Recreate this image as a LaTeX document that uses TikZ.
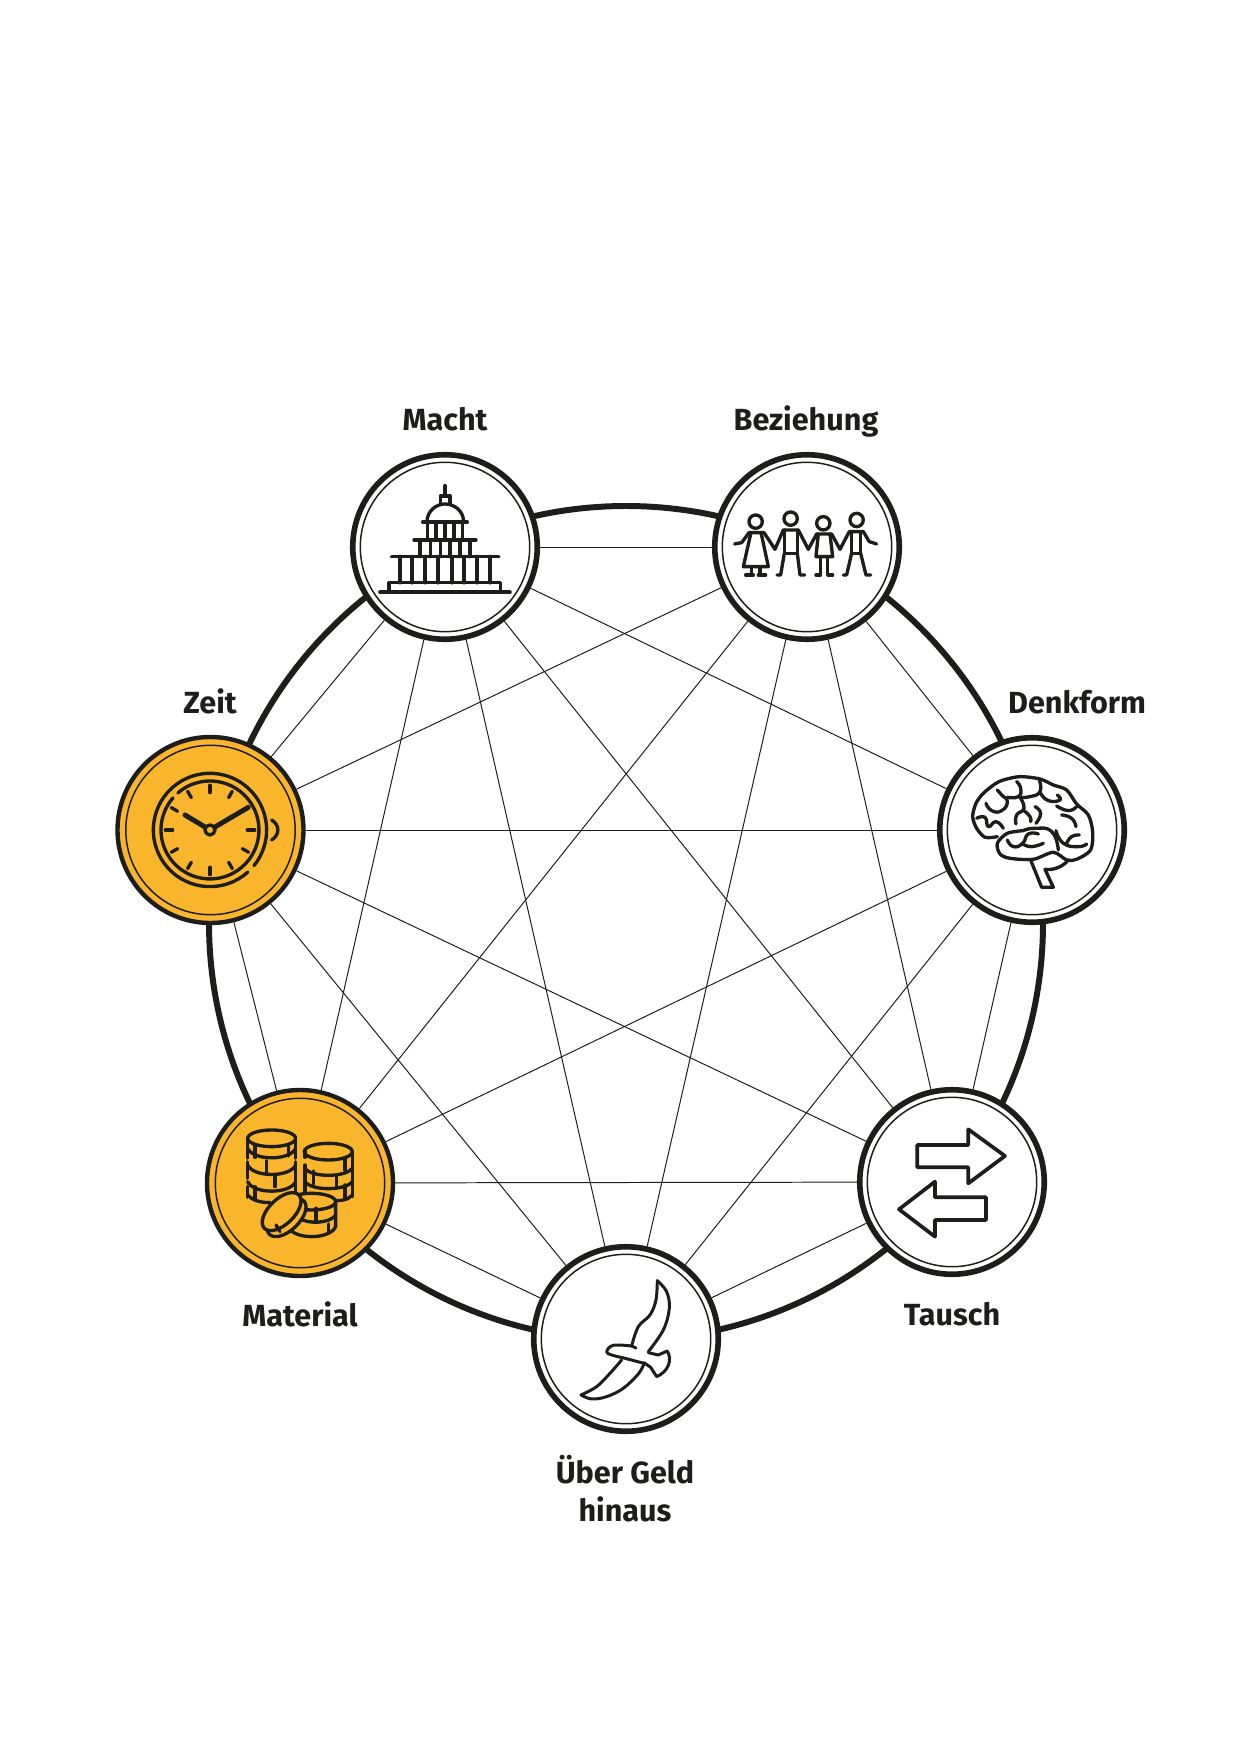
\documentclass[tikz,border=0pt]{standalone}
\usepackage{fontspec}
\setmainfont{Fira Sans}
\usetikzlibrary{positioning}
\definecolor{inkblack}{HTML}{1D1D1B}
\definecolor{coinyellow}{HTML}{F9B52B}
\tikzset{
  hub/.style={circle, draw=inkblack, line width=1.6pt, minimum size=1.845cm, fill=white},
  hubgold/.style={hub, line width=1.25pt, minimum size=1.86cm, fill=coinyellow},
  ring/.style={draw=inkblack, line width=0.42pt},
  spoke/.style={draw=inkblack, line width=0.28pt},
  lbl/.style={font=\bfseries\fontsize{8.7}{10.8}\selectfont, text=inkblack, align=center, inner sep=0pt},
  icon/.style={draw=inkblack, line width=0.95pt, line cap=round, line join=round},
  fold/.style={smooth, tension=0.9},
  zoomed/.style 2 args={shift={(#1,#2)}, x=0.03333mm, y=-0.03333mm}
}
\begin{document}
\begin{tikzpicture}[y=-1cm]
    \path[fill=white] (0,0) rectangle (12.4,17.53);
    \draw[inkblack, line width=1.7pt] (6.26,9.23) circle (4.17);
    % hubs
    \foreach \name/\x/\y/\sty in {macht/4.45/5.47/hub, bez/8.07/5.47/hub, denk/10.32/8.30/hub, tausch/9.52/11.82/hub, geld/6.26/13.39/hub, mat/3.00/11.83/hubgold, zeit/2.105/8.30/hubgold} {
      \node[\sty] (\name) at (\x,\y) {};
      \draw[ring] (\name.center) circle (0.847);
    }
    % every hub to every other
    \foreach \a/\b in {macht/bez, macht/denk, macht/tausch, macht/geld, macht/mat, macht/zeit, bez/denk, bez/tausch, bez/geld, bez/mat, bez/zeit, denk/tausch, denk/geld, denk/mat, denk/zeit, tausch/geld, tausch/mat, tausch/zeit, geld/mat, geld/zeit, mat/zeit} {
      \draw[spoke] (\a) -- (\b);
    }
    \node[lbl] (lblmacht) at (4.45,4.19) {Macht};
    \node[lbl] (lblbez) at (8.06,4.21) {Beziehung};
    \node[lbl] (lbldenk) at (10.77,7.02) {Denkform};
    \node[lbl] (lblzeit) at (2.10,7.01) {Zeit};
    \node[lbl] (lblmat) at (3.00,13.14) {Material};
    \node[lbl] (lbltausch) at (9.52,13.14) {Tausch};
    \node[lbl] (lblgeld) at (6.25,14.89) {Über Geld\\hinaus};
    % capitol
    \begin{scope}[zoomed={3.3}{3.9}]
      \draw[icon, line width=1.05pt] (150,607) -- (540,607);
      \draw[icon, line width=1.05pt] (178,607) -- (178,578) -- (512,578) -- (512,607);
      \foreach \x in {210,247,285,325,365,403,442,480} { \draw[icon, line width=1.1pt] (\x,500) -- (\x,578); }
      \draw[icon, line width=1.05pt] (185,500) -- (506,500);
      \foreach \x in {270,302,332,360,390,420} { \draw[icon] (\x,450) -- (\x,500); }
      \draw[icon] (252,450) -- (438,450);
      \foreach \x in {292,318,345,372,398} { \draw[icon] (\x,396) -- (\x,450); }
      \draw[icon] (278,396) -- (412,396);
      \draw[icon] (291,396) .. controls (291,362) and (320,342) .. (345,342) .. controls (372,342) and (401,362) .. (401,396);
      \draw[icon] (331,342) -- (331,318) -- (360,318) -- (360,342);
      \draw[icon, line width=1.2pt] (345,288) -- (345,318);
    \end{scope}
    % people
    \begin{scope}[zoomed={6.9}{3.9}]
      \foreach \x/\y in {197/395, 302/386, 400/400, 500/390} { \draw[icon] (\x,\y) circle (20); }
      \draw[icon] (134,462) -- (155,458) -- (177,428) -- (222,428) -- (255,478) -- (280,420) -- (325,420) -- (355,478) -- (380,432) -- (425,432) -- (450,478) -- (478,425) -- (520,425) -- (538,455) -- (560,462);
      \draw[icon] (182,432) -- (160,530) -- (235,530) -- (214,432);
      \draw[icon] (185,530) -- (185,555) (210,530) -- (210,555) (167,555) -- (190,555) (205,555) -- (227,555);
      \draw[icon] (283,420) -- (283,490) -- (322,490) -- (322,420);
      \draw[icon] (283,490) -- (272,555) -- (261,555) (322,490) -- (330,555) -- (344,555);
      \draw[icon] (385,432) -- (378,500) -- (428,500) -- (420,432);
      \draw[icon] (392,500) -- (392,555) -- (378,555) (413,500) -- (413,555) -- (428,555);
      \draw[icon] (485,425) -- (485,490) -- (512,490) -- (512,425);
      \draw[icon] (485,490) -- (470,555) -- (460,555) (512,490) -- (528,555) -- (542,555);
    \end{scope}
    % clock
    \begin{scope}[zoomed={1}{6.8}]
      \draw[icon] (330,450) ++(48:170) arc[start angle=48, end angle=399, radius=170];
      \draw[icon] (330,450) ++(229:147) arc[start angle=229, end angle=581, radius=147];
      \foreach \a in {0,30,...,330} { \draw[icon] (330,450) ++(\a:112) -- ++(\a:22); }
      \draw[icon] (515,420) .. controls (540,435) and (540,465) .. (515,480);
      \draw[icon, line width=1.4pt] (330,450) -- (255,405);
      \draw[icon, line width=1.4pt] (330,450) -- (445,382);
      \draw[icon, fill=coinyellow] (330,450) circle (15);
    \end{scope}
    % brain
    \begin{scope}[zoomed={9.2}{6.8}]
      \draw[icon] plot[smooth] coordinates {(232,470) (195,472) (170,445) (158,410) (168,370) (190,340) (225,312) (250,300) (300,290) (360,297) (400,315) (440,330) (470,372) (505,405) (518,455) (512,510) (470,538) (440,540) (400,517) (340,538) (270,535) (240,522) (232,490) (262,460) (310,452)};
      \draw[icon] (332,540) -- (365,622) -- (400,622) -- (375,568) .. controls (400,572) and (430,560) .. (445,540);
      \draw[icon] plot[fold] coordinates {(198,370) (215,392) (245,392) (262,365) (245,345) (232,330)};
      \draw[icon] plot[fold] coordinates {(262,352) (295,350) (302,325) (290,305)};
      \draw[icon] plot[fold] coordinates {(300,352) (330,350) (360,335) (358,300)};
      \draw[icon] plot[fold] coordinates {(300,352) (312,385) (290,405) (288,432)};
      \draw[icon] plot[fold] coordinates {(312,392) (330,410) (332,425)};
      \draw[icon] plot[fold] coordinates {(345,380) (362,400) (348,430)};
      \draw[icon] plot[fold] coordinates {(362,340) (385,362) (420,360) (412,345)};
      \draw[icon] plot[fold] coordinates {(410,378) (445,392) (470,380)};
      \draw[icon] plot[fold] coordinates {(425,405) (455,415) (468,440)};
      \draw[icon] plot[fold] coordinates {(408,452) (430,490) (475,500) (500,492)};
      \draw[icon] plot[fold] coordinates {(440,490) (455,470) (478,465)};
      \draw[icon] plot[fold] coordinates {(170,415) (195,412) (205,440) (228,425) (250,445)};
      \draw[icon] plot[fold] coordinates {(262,480) (280,500) (308,490) (325,462) (355,462)};
      \draw[icon] plot[fold] coordinates {(308,492) (335,500) (370,490)};
      \draw[icon] plot[fold] coordinates {(310,452) (345,445) (395,455) (415,510)};
    \end{scope}
    % coins
    \begin{scope}[zoomed={1.9}{10.7}]
      \draw[icon] (245,205) ellipse (72 and 25);
      \draw[icon] (173,205) -- (173,265) (173,275) -- (173,325) (173,350) -- (173,382) (317,205) -- (317,265) (317,275) -- (317,375);
      \foreach \y in {235,285,335} { \draw[icon] (173,\y) .. controls (190,\y+38) and (300,\y+38) .. (317,\y); }
      \draw[icon] (173,375) .. controls (185,390) and (210,398) .. (240,398);
      \draw[icon] (195,225) -- (195,262) (295,225) -- (295,258) (230,272) -- (230,308) (255,315) -- (255,350) (195,350) -- (195,388);
      \draw[icon] (415,245) ellipse (72 and 25);
      \draw[icon] (345,245) -- (345,262) (345,285) -- (345,365) (487,245) -- (487,380);
      \foreach \y in {295,335} { \draw[icon] (345,\y) .. controls (365,\y+28) and (465,\y+28) .. (487,\y); }
      \draw[icon] (420,390) .. controls (450,395) and (475,390) .. (487,375);
      \draw[icon] (465,265) -- (465,300) (370,303) -- (370,342) (440,315) -- (440,352) (465,345) -- (465,385);
      \draw[icon, fill=coinyellow] (295,395) -- (295,470) .. controls (310,510) and (420,510) .. (437,470) -- (437,395) -- cycle;
      \draw[icon, fill=coinyellow] (365,395) ellipse (72 and 25);
      \draw[icon] (330,445) .. controls (350,462) and (420,462) .. (437,435);
      \draw[icon] (378,415) -- (378,455) (415,462) -- (415,490);
      \draw[icon, fill=coinyellow] (290,443) ellipse [x radius=72, y radius=38, rotate=44];
      \draw[icon, fill=coinyellow] (275,425) ellipse [x radius=72, y radius=38, rotate=44];
      \draw[icon] (258,465) -- (270,485);
    \end{scope}
    % arrows
    \begin{scope}[zoomed={8.4}{10.7}]
      \draw[icon, line width=1.05pt] (232,225) -- (385,225) -- (385,178) -- (495,258) -- (385,340) -- (385,292) -- (232,292) -- cycle;
      \draw[icon, line width=1.05pt] (438,382) -- (285,382) -- (285,335) -- (177,418) -- (285,500) -- (285,450) -- (438,450) -- cycle;
    \end{scope}
    % bird
    \begin{scope}[zoomed={5.1}{12.2}]
      \draw[icon, line width=0.85pt] plot[smooth, tension=0.6] coordinates {(442,182) (470,215) (478,265) (460,330) (415,395)};
      \draw[icon, line width=0.85pt] (415,398) -- (445,405) -- (472,393) .. controls (488,420) and (475,455) .. (440,470) -- (422,442) -- (402,428);
      \draw[icon, line width=0.85pt] plot[smooth, tension=0.6] coordinates {(402,432) (385,462) (340,505) (290,530) (245,537) (213,525)};
      \draw[icon, line width=0.85pt] plot[smooth, tension=0.6] coordinates {(213,525) (260,500) (300,460) (335,420)};
      \draw[icon, line width=0.85pt] plot[smooth, tension=0.6] coordinates {(442,182) (438,240) (420,285) (385,320) (365,378)};
      \draw[icon, line width=0.85pt] plot[smooth, tension=0.6] coordinates {(365,378) (310,376) (290,395) (305,405) (345,415) (402,430)};
      \draw[icon, line width=0.85pt] (365,378) -- (378,384);
    \end{scope}
\end{tikzpicture}
\end{document}
